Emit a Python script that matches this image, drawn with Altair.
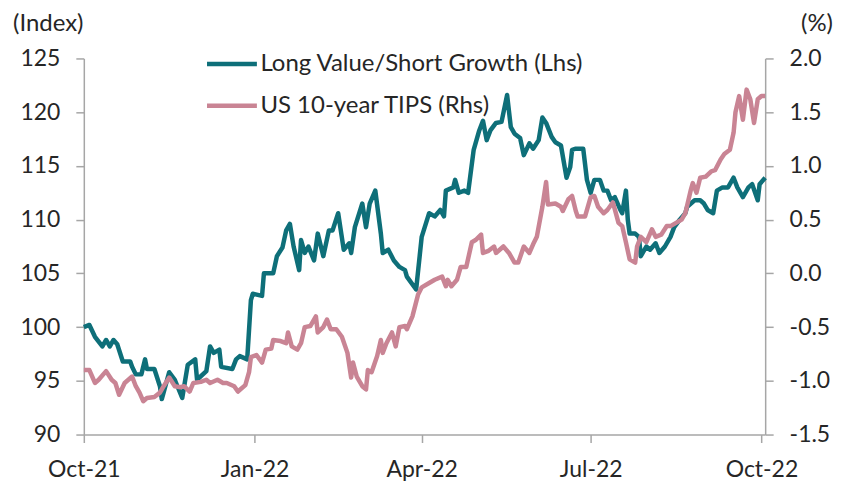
import altair as alt
import pandas as pd

SERIES_LV = "Long Value/Short Growth (Lhs)"
SERIES_TIPS = "US 10-year TIPS (Rhs)"

lv_dates = [
    "2021-10-01", "2021-10-04", "2021-10-07", "2021-10-11", "2021-10-13", "2021-10-15",
    "2021-10-17", "2021-10-19", "2021-10-22", "2021-10-26", "2021-10-27", "2021-10-29",
    "2021-11-01", "2021-11-03", "2021-11-04", "2021-11-08", "2021-11-11", "2021-11-12",
    "2021-11-16", "2021-11-19", "2021-11-23", "2021-11-26", "2021-11-30", "2021-12-01",
    "2021-12-06", "2021-12-08", "2021-12-10", "2021-12-13", "2021-12-14", "2021-12-20",
    "2021-12-22", "2021-12-24", "2021-12-28", "2021-12-30", "2021-12-31", "2022-01-05",
    "2022-01-06", "2022-01-11", "2022-01-13", "2022-01-16", "2022-01-18", "2022-01-20",
    "2022-01-22", "2022-01-25", "2022-01-26", "2022-01-28", "2022-01-30", "2022-02-02",
    "2022-02-04", "2022-02-07", "2022-02-10", "2022-02-12", "2022-02-15", "2022-02-18",
    "2022-02-21", "2022-02-22", "2022-02-24", "2022-02-28", "2022-03-02", "2022-03-04",
    "2022-03-07", "2022-03-10", "2022-03-11", "2022-03-14", "2022-03-17", "2022-03-20",
    "2022-03-23", "2022-03-24", "2022-03-29", "2022-04-01", "2022-04-05", "2022-04-08",
    "2022-04-11", "2022-04-13", "2022-04-14", "2022-04-18", "2022-04-19", "2022-04-21",
    "2022-04-24", "2022-04-26", "2022-04-29", "2022-05-02", "2022-05-04", "2022-05-06",
    "2022-05-08", "2022-05-11", "2022-05-14", "2022-05-17", "2022-05-19", "2022-05-21",
    "2022-05-24", "2022-05-26", "2022-05-29", "2022-05-31", "2022-06-03", "2022-06-05",
    "2022-06-07", "2022-06-10", "2022-06-12", "2022-06-15", "2022-06-18", "2022-06-20",
    "2022-06-21", "2022-06-23", "2022-06-27", "2022-06-29", "2022-07-01", "2022-07-03",
    "2022-07-06", "2022-07-08", "2022-07-10", "2022-07-12", "2022-07-14", "2022-07-17",
    "2022-07-18", "2022-07-20", "2022-07-21", "2022-07-22", "2022-07-25", "2022-07-27",
    "2022-07-28", "2022-07-31", "2022-08-02", "2022-08-05", "2022-08-07", "2022-08-10",
    "2022-08-13", "2022-08-15", "2022-08-18", "2022-08-21", "2022-08-22", "2022-08-26",
    "2022-08-29", "2022-08-31", "2022-09-02", "2022-09-05", "2022-09-07", "2022-09-10",
    "2022-09-13", "2022-09-16", "2022-09-18", "2022-09-21", "2022-09-24", "2022-09-26",
    "2022-09-29", "2022-09-30", "2022-10-03",
]
lv_values = [
    100.0, 100.2, 99.1, 98.2, 98.8, 98.2,
    98.8, 98.4, 96.8, 96.8, 96.3, 95.6,
    95.6, 97.0, 96.1, 96.1, 94.5, 93.3,
    95.8, 95.1, 93.4, 96.5, 97.0, 95.1,
    95.9, 98.2, 97.6, 97.9, 96.3, 96.1,
    97.0, 97.3, 97.0, 102.5, 103.1, 102.9,
    105.0, 105.0, 106.6, 107.4, 109.0, 109.6,
    107.5, 105.3, 108.1, 106.9, 107.5, 106.2,
    108.7, 106.6, 109.0, 109.0, 110.6, 107.2,
    107.8, 106.9, 109.3, 111.5, 109.3, 111.5,
    112.7, 108.7, 106.9, 107.2, 106.2, 105.6,
    105.3, 104.7, 103.5, 108.4, 110.6, 110.3,
    110.9, 110.3, 112.7, 113.0, 113.7, 112.5,
    112.7, 112.5, 116.5, 118.3, 119.2, 117.4,
    118.3, 119.0, 119.1, 121.6, 118.6, 118.0,
    117.6, 116.0, 117.1, 116.6, 117.4, 119.5,
    119.0, 117.7, 117.2, 116.9, 113.9, 114.9,
    116.5, 116.6, 116.6, 113.7, 112.5, 113.7,
    113.7, 112.7, 112.7, 111.8, 112.1, 110.9,
    110.6, 112.7, 110.0, 108.7, 108.7, 108.4,
    106.6, 107.5, 107.2, 107.8, 106.9, 107.5,
    108.4, 109.3, 110.0, 110.6, 111.2, 111.8,
    111.8, 111.5, 110.9, 110.6, 112.7, 113.0,
    113.0, 113.9, 113.0, 112.1, 113.0, 113.3,
    111.8, 113.3, 113.9,
]

tips_dates = [
    "2021-10-01", "2021-10-04", "2021-10-07", "2021-10-09", "2021-10-13", "2021-10-16",
    "2021-10-18", "2021-10-20", "2021-10-23", "2021-10-27", "2021-10-29", "2021-10-31",
    "2021-11-02", "2021-11-04", "2021-11-08", "2021-11-11", "2021-11-13", "2021-11-16",
    "2021-11-19", "2021-11-22", "2021-11-24", "2021-11-27", "2021-11-29", "2021-12-03",
    "2021-12-06", "2021-12-08", "2021-12-12", "2021-12-15", "2021-12-17", "2021-12-21",
    "2021-12-23", "2021-12-27", "2021-12-29", "2021-12-30", "2022-01-02", "2022-01-05",
    "2022-01-07", "2022-01-10", "2022-01-11", "2022-01-15", "2022-01-18", "2022-01-19",
    "2022-01-21", "2022-01-24", "2022-01-26", "2022-01-28", "2022-01-31", "2022-02-03",
    "2022-02-04", "2022-02-07", "2022-02-09", "2022-02-11", "2022-02-14", "2022-02-17",
    "2022-02-20", "2022-02-22", "2022-02-23", "2022-02-25", "2022-02-28", "2022-03-02",
    "2022-03-03", "2022-03-05", "2022-03-08", "2022-03-10", "2022-03-11", "2022-03-13",
    "2022-03-16", "2022-03-18", "2022-03-20", "2022-03-23", "2022-03-24", "2022-03-27",
    "2022-03-30", "2022-04-01", "2022-04-05", "2022-04-08", "2022-04-12", "2022-04-14",
    "2022-04-15", "2022-04-17", "2022-04-20", "2022-04-22", "2022-04-25", "2022-04-28",
    "2022-04-30", "2022-05-03", "2022-05-04", "2022-05-07", "2022-05-10", "2022-05-11",
    "2022-05-15", "2022-05-18", "2022-05-21", "2022-05-23", "2022-05-26", "2022-05-29",
    "2022-05-31", "2022-06-02", "2022-06-05", "2022-06-07", "2022-06-08", "2022-06-12",
    "2022-06-15", "2022-06-16", "2022-06-19", "2022-06-21", "2022-06-23", "2022-06-24",
    "2022-06-28", "2022-07-01", "2022-07-03", "2022-07-05", "2022-07-08", "2022-07-10",
    "2022-07-13", "2022-07-16", "2022-07-18", "2022-07-20", "2022-07-22", "2022-07-25",
    "2022-07-26", "2022-07-28", "2022-07-31", "2022-08-03", "2022-08-05", "2022-08-08",
    "2022-08-11", "2022-08-13", "2022-08-16", "2022-08-19", "2022-08-21", "2022-08-24",
    "2022-08-25", "2022-08-27", "2022-08-29", "2022-09-01", "2022-09-04", "2022-09-06",
    "2022-09-09", "2022-09-11", "2022-09-14", "2022-09-16", "2022-09-17", "2022-09-19",
    "2022-09-21", "2022-09-23", "2022-09-25", "2022-09-27", "2022-09-29", "2022-10-01",
    "2022-10-03",
]
tips_values = [
    -0.90, -0.90, -1.02, -0.99, -0.91, -0.99,
    -1.02, -1.13, -1.02, -0.96, -1.05, -1.11,
    -1.19, -1.16, -1.15, -1.11, -1.05, -0.97,
    -1.05, -1.06, -1.05, -1.10, -1.02, -1.01,
    -0.99, -1.02, -0.99, -1.02, -1.02, -1.05,
    -1.10, -1.04, -0.92, -0.78, -0.76, -0.83,
    -0.71, -0.70, -0.62, -0.63, -0.65, -0.55,
    -0.68, -0.71, -0.65, -0.50, -0.49, -0.40,
    -0.55, -0.50, -0.43, -0.52, -0.52, -0.59,
    -0.74, -0.97, -0.83, -0.96, -1.05, -1.08,
    -0.90, -0.92, -0.77, -0.62, -0.74, -0.65,
    -0.55, -0.68, -0.50, -0.49, -0.52, -0.40,
    -0.20, -0.13, -0.09, -0.06, -0.03, -0.12,
    -0.06, -0.12, -0.06, 0.06, 0.06, 0.29,
    0.31, 0.36, 0.19, 0.21, 0.25, 0.19,
    0.25, 0.19, 0.10, 0.10, 0.25, 0.19,
    0.27, 0.34, 0.62, 0.85, 0.64, 0.65,
    0.62, 0.58, 0.69, 0.72, 0.58, 0.53,
    0.53, 0.71, 0.72, 0.62, 0.56, 0.59,
    0.66, 0.47, 0.44, 0.29, 0.13, 0.10,
    0.25, 0.34, 0.29, 0.41, 0.34, 0.36,
    0.44, 0.44, 0.47, 0.50, 0.56, 0.78,
    0.84, 0.75, 0.89, 0.90, 0.95, 0.96,
    1.06, 1.11, 1.15, 1.31, 1.50, 1.65,
    1.43, 1.71, 1.62, 1.40, 1.62, 1.65,
    1.65,
]

x_tick_dates = [(2021, 10), (2022, 1), (2022, 4), (2022, 7), (2022, 10)]
left_ticks = [90, 95, 100, 105, 110, 115, 120, 125]
right_ticks = [-1.5, -1.0, -0.5, 0.0, 0.5, 1.0, 1.5, 2.0]
left_unit = "(Index)"
right_unit = "(%)"

TEAL = "#0E6F79"
PINK = "#C98494"
AXIS_GREY = "#A6A6A6"
TEXT = "#262626"
FONT = "Lato"
FS = 23
FS_BIG = 24
W, H = 683, 377

lv_df = pd.DataFrame({"date": lv_dates, "value": lv_values, "series": SERIES_LV})
tips_df = pd.DataFrame({"date": tips_dates, "value": tips_values, "series": SERIES_TIPS})

x_enc = alt.X(
    "date:T",
    scale=alt.Scale(type="utc", domain=[alt.DateTime(year=2021, month=10, date=1, utc=True),
                                        alt.DateTime(year=2022, month=10, date=3, utc=True)]),
    axis=alt.Axis(
        values=[alt.DateTime(year=y, month=m, date=1, utc=True) for y, m in x_tick_dates],
        format="%b-%y", title=None, grid=False, domainColor=AXIS_GREY, tickColor=AXIS_GREY,
        tickSize=8, labelPadding=16, labelFontSize=FS, labelFont=FONT, labelColor=TEXT,
        domainWidth=1.5, tickWidth=1.5, labelFlush=False, labelOverlap=False,
    ),
)

color_scale = alt.Scale(domain=[SERIES_LV, SERIES_TIPS], range=[TEAL, PINK])

lv = alt.Chart(lv_df).mark_line(strokeWidth=4.5, strokeJoin="round").encode(
    x=x_enc,
    y=alt.Y(
        "value:Q",
        scale=alt.Scale(domain=[90, 125], nice=False, zero=False),
        axis=alt.Axis(values=left_ticks, title=None, grid=False, orient="left",
                      domainColor=AXIS_GREY, tickColor=AXIS_GREY, tickSize=8,
                      labelPadding=16, labelFontSize=FS, labelFont=FONT, labelColor=TEXT,
                      domainWidth=1.5, tickWidth=1.5),
    ),
    color=alt.Color(
        "series:N", scale=color_scale,
        legend=alt.Legend(
            title=None, orient="none", legendX=121, legendY=-22, direction="vertical",
            symbolType="stroke", symbolSize=2500, symbolStrokeWidth=4.5,
            labelFontSize=FS_BIG, labelFont=FONT, labelColor=TEXT, labelOffset=1,
            labelLimit=0, rowPadding=2,
        ),
    ),
)

tips = alt.Chart(tips_df).mark_line(strokeWidth=4.5, strokeJoin="round").encode(
    x=x_enc,
    y=alt.Y(
        "value:Q",
        scale=alt.Scale(domain=[-1.5, 2.0], nice=False, zero=False),
        axis=alt.Axis(values=right_ticks, format=".1f", title=None, grid=False, orient="right",
                      labelExpr="replace(datum.label, '\u2212', '-')",
                      domainColor=AXIS_GREY, tickColor=AXIS_GREY, tickSize=8,
                      labelPadding=16, labelFontSize=FS, labelFont=FONT, labelColor=TEXT,
                      domainWidth=1.5, tickWidth=1.5),
    ),
    color=alt.Color("series:N", scale=color_scale),
)

left_label = alt.Chart(pd.DataFrame({"t": [left_unit]})).mark_text(
    font=FONT, fontSize=FS_BIG, color=TEXT, align="left", baseline="middle", dx=-71, dy=-35
).encode(text="t:N", x=alt.value(0), y=alt.value(0))

right_label = alt.Chart(pd.DataFrame({"t": [right_unit]})).mark_text(
    font=FONT, fontSize=FS_BIG, color=TEXT, align="right", baseline="middle", dx=68, dy=-35
).encode(text="t:N", x=alt.value(W), y=alt.value(0))

chart = alt.layer(lv, tips, left_label, right_label).resolve_scale(
    y="independent", color="shared"
).properties(
    width=W, height=H,
    autosize=alt.AutoSizeParams(type="none"),
    padding={"left": 76, "top": 50, "right": 70, "bottom": 50},
).configure_view(stroke=None)

chart.save("out.html", embed_options={"renderer": "svg", "actions": False})
